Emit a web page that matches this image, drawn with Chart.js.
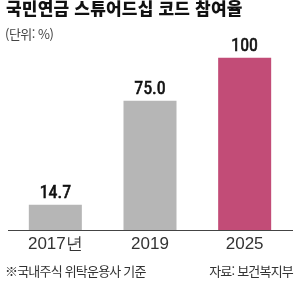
<!DOCTYPE html>
<html lang="ko">
<head>
  <meta charset="UTF-8" />
  <title>국민연금 스튜어드십 코드 참여율</title>
  <script src="https://cdn.jsdelivr.net/npm/chart.js"></script>
  <style>
    body {
      margin: 0;
      padding: 0;
      background: #ffffff;
      font-family: 'Noto Sans CJK KR', 'Noto Sans', sans-serif;
    }

    .wrap {
      position: relative;
      width: 300px;
      height: 282px;
      overflow: hidden;
    }

    .wrap canvas {
      position: absolute;
      left: 0;
      top: 0;
    }

    .title {
      position: absolute;
      left: 6px;
      top: -2px;
      font-size: 17px;
      font-weight: 900;
      line-height: 20px;
      letter-spacing: 0.2px;
      color: #111;
      white-space: nowrap;
    }

    .unit {
      position: absolute;
      left: 5px;
      top: 26px;
      font-size: 13px;
      line-height: 16px;
      letter-spacing: -0.5px;
      color: #444;
    }

    .note, .source {
      position: absolute;
      top: 263px;
      font-size: 13px;
      line-height: 16px;
      letter-spacing: -0.8px;
      color: #333;
      white-space: nowrap;
    }

    .note { left: 5px; }
    .source { right: 7px; }
  </style>
</head>
<body>

<div class="wrap">
  <canvas id="chart" width="300" height="282"></canvas>
  <div class="title">국민연금 스튜어드십 코드 참여율</div>
  <div class="unit">(단위: %)</div>
  <div class="note">※국내주식 위탁운용사 기준</div>
  <div class="source">자료: 보건복지부</div>
</div>

<script>
  // data
  const years = ['2017년', '2019', '2025'];
  const rates = [14.7, 75.0, 100];
  const rateLabels = ['14.7', '75.0', '100'];
  const barColors = ['#b6b6b6', '#b6b6b6', '#c24c77'];

  // draws the value above each bar
  const valueLabels = {
    id: 'valueLabels',
    afterDatasetsDraw(chart) {
      const ctx = chart.ctx;
      const meta = chart.getDatasetMeta(0);
      ctx.save();
      ctx.font = '18px "Liberation Sans Narrow", "Roboto Condensed", sans-serif';
      ctx.fillStyle = '#111';
      ctx.strokeStyle = '#111';
      ctx.lineWidth = 0.6;
      ctx.textAlign = 'center';
      ctx.textBaseline = 'alphabetic';
      meta.data.forEach(function(bar, i) {
        ctx.fillText(rateLabels[i], bar.x, bar.y - 7);
        ctx.strokeText(rateLabels[i], bar.x, bar.y - 7);
      });
      ctx.restore();
    }
  };

  new Chart(document.getElementById('chart'), {
    type: 'bar',
    data: {
      labels: years,
      datasets: [{
        data: rates,
        backgroundColor: barColors,
        borderWidth: 0,
        barPercentage: 0.56,
        categoryPercentage: 1
      }]
    },
    options: {
      responsive: false,
      animation: false,
      layout: {
        padding: { top: 57.5, left: 8, right: 8, bottom: 23.6 }
      },
      plugins: {
        legend: { display: false },
        tooltip: { enabled: false }
      },
      scales: {
        x: {
          grid: { display: false, drawTicks: false },
          border: { display: true, color: '#444', width: 1 },
          ticks: {
            padding: 4,
            color: '#333',
            font: { family: '"Liberation Sans Narrow", sans-serif', size: 17 }
          }
        },
        y: {
          display: false,
          min: 0,
          max: 100
        }
      }
    },
    plugins: [valueLabels]
  });
</script>

</body>
</html>
